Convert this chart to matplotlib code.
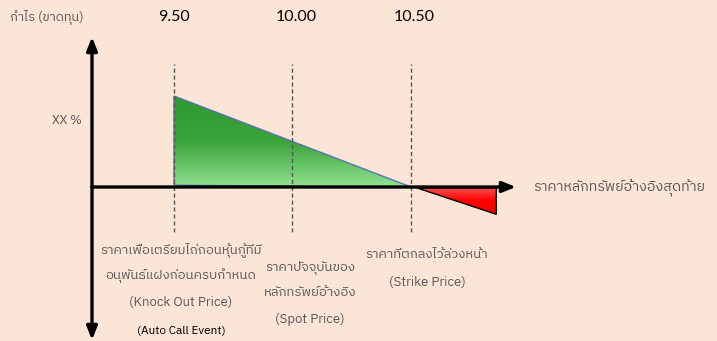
import numpy as np
import matplotlib
matplotlib.use("Agg")
import matplotlib.pyplot as plt
from matplotlib import font_manager
from matplotlib.ft2font import FT2Font
from matplotlib.colors import LinearSegmentedColormap
from matplotlib.patches import Polygon

# price levels on the horizontal axis
price_labels = ["9.50", "10.00", "10.50"]
knock_out, spot, strike = 9.50, 10.00, 10.50
final_low = 10.86          # right end of the loss zone
payoff_ko = 1.0            # "XX %" gain at knock-out
payoff_low = -0.30         # loss at final_low

y_title = "กำไร (ขาดทุน)"
x_title = "ราคาหลักทรัพย์อ้างอิงสุดท้าย"
pct_label = "XX %"
ko_lines = ["ราคาเพื่อเตรียมไถ่ถอนหุ้นกู้ที่มี", "อนุพันธ์แฝงก่อนครบกำหนด", "(Knock Out Price)"]
ko_event = "(Auto Call Event)"
spot_lines = ["ราคาปัจจุบันของ", "หลักทรัพย์อ้างอิง", "(Spot Price)"]
strike_lines = ["ราคาที่ตกลงไว้ล่วงหน้า", "(Strike Price)"]


def thai_fonts():
    found = []
    for path in font_manager.findSystemFonts():
        try:
            cmap = FT2Font(path).get_charmap()
        except Exception:
            continue
        if ord("ก") in cmap:
            name = font_manager.FontProperties(fname=path).get_name()
            if name not in found:
                found.append(name)
    return found


# plain (loopless) Thai face first, it keeps the label widths compact
fams = thai_fonts()
fams = sorted(fams, key=lambda n: ("Thai" not in n, "Looped" in n, n))
plt.rcParams["font.family"] = fams + ["Lato", "DejaVu Sans"]

W, H = 717, 341
bg = "#fbe5d6"
grey = "#595959"

fig = plt.figure(figsize=(W / 100, H / 100), dpi=100, facecolor=bg)
ax = fig.add_axes([0, 0, 1, 1])
ax.set_facecolor(bg)
ax.axis("off")

# scale: pixels per price unit and per payoff unit
px_x, px_y = 237.0, 91.0
x_ko_px, y_zero_px = 174.0, 187.0
ax.set_xlim(knock_out - x_ko_px / px_x, knock_out + (W - x_ko_px) / px_x)
ax.set_ylim(-(H - y_zero_px) / px_y, y_zero_px / px_y)


def px2data(px, py):
    return (knock_out + (px - x_ko_px) / px_x, (y_zero_px - py) / px_y)


def gradient_poly(verts, colors, edge, lw):
    poly = Polygon(verts, closed=True, facecolor="none", edgecolor=edge, lw=lw, zorder=3)
    ax.add_patch(poly)
    xs = [v[0] for v in verts]
    ys = [v[1] for v in verts]
    cmap = LinearSegmentedColormap.from_list("g", colors)
    # first colour at the top
    grad = np.linspace(0, 1, 256).reshape(-1, 1)
    im = ax.imshow(grad, cmap=cmap, aspect="auto", zorder=2, origin="upper",
                   extent=[min(xs), max(xs), min(ys), max(ys)], interpolation="bicubic")
    im.set_clip_path(poly)


# gain triangle (knock-out to strike)
gradient_poly([(knock_out, payoff_ko), (strike, 0.0), (knock_out, 0.02)],
              ["#2f992f", "#3aa43a", "#91e191"], "#5a74b0", 1.0)
# loss triangle beyond strike
gradient_poly([(strike + 0.025, -0.01), (final_low, -0.01), (final_low, payoff_low)],
              ["#ff5555", "#ff0000", "#ee0000"], "black", 1.0)

# dashed reference lines
y_top = px2data(0, 64)[1]
y_bot = px2data(0, 232)[1]
for p in (knock_out, spot, strike):
    ax.plot([p, p], [y_bot, y_top], color="#555555", lw=1.0, ls=(0, (3, 2)), zorder=4)

# axes with arrows
ox = px2data(92, 0)[0]
x_end = px2data(516, 0)[0]
arrow = dict(arrowstyle="-|>,head_length=0.8,head_width=0.32", lw=2.4, color="black",
             shrinkA=0, shrinkB=0)
ax.annotate("", xy=(x_end, 0), xytext=(ox, 0), arrowprops=arrow, zorder=5)
ax.annotate("", xy=(ox, px2data(0, 37)[1]), xytext=(ox, 0), arrowprops=arrow, zorder=5)
ax.annotate("", xy=(ox, px2data(0, 340)[1]), xytext=(ox, 0), arrowprops=arrow, zorder=5)

# price labels on top
label_y = px2data(0, 17)[1]
for p, lab, dx in zip((knock_out, spot, strike), price_labels, (0, 0.015, 0.012)):
    ax.text(p + dx, label_y, lab, ha="center", va="center", fontsize=11.5,
            color="black", family=["Lato", "DejaVu Sans"])

fig.text(10 / W, 1 - 17 / H, y_title, ha="left", va="center", fontsize=9.3, color=grey)
fig.text(52 / W, 1 - 120 / H, pct_label, ha="left", va="center", fontsize=9, color=grey)
fig.text(533 / W, 1 - 188 / H, x_title, ha="left", va="center", fontsize=10.3, color=grey)

for line, y in zip(ko_lines, (250, 276, 302)):
    fig.text(181 / W, 1 - y / H, line, ha="center", va="center", fontsize=9.5, color=grey)
fig.text(181 / W, 1 - 331 / H, ko_event, ha="center", va="center", fontsize=8.5, color="black")

for line, y in zip(spot_lines, (268, 293, 319)):
    fig.text(310 / W, 1 - y / H, line, ha="center", va="center", fontsize=9.5, color=grey)

for line, y in zip(strike_lines, (255, 282)):
    fig.text(427 / W, 1 - y / H, line, ha="center", va="center", fontsize=9.5, color=grey)

fig.savefig("out.png", dpi=100, facecolor=bg)
